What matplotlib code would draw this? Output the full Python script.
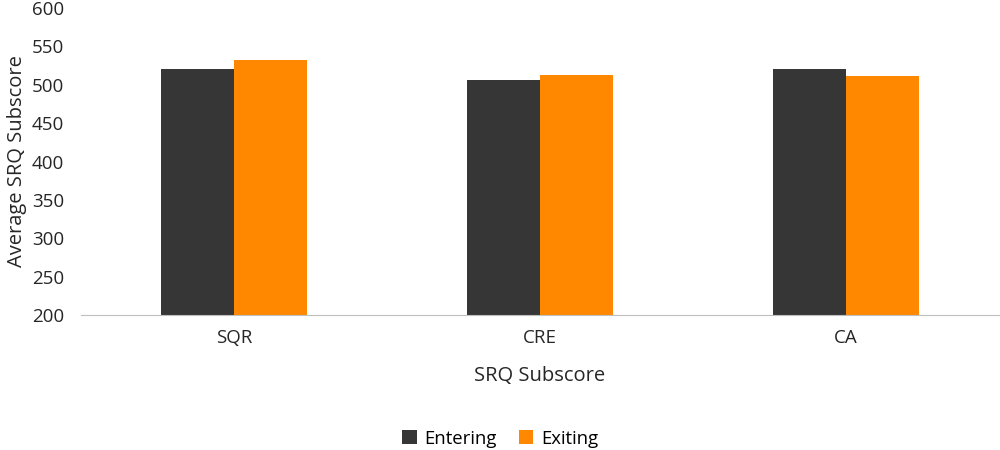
import numpy as np
import matplotlib.pyplot as plt

plt.rcParams['font.family'] = ['Open Sans', 'DejaVu Sans']

# Data
categories = ['SQR', 'CRE', 'CA']
entering = [520, 506, 521]
exiting = [532, 513, 511]

x = np.arange(len(categories))
w = 0.24

fig = plt.figure(figsize=(10, 4.5), dpi=100)
ax = fig.add_axes([0.081, 0.3, 0.918, 0.682])

ax.bar(x - w/2, entering, w, color='#363636', label='Entering')
ax.bar(x + w/2, exiting, w, color='#FF8800', label='Exiting')

ax.set_ylim(200, 600)
ax.set_xlim(-0.5, 2.5)
ax.set_yticks(range(200, 601, 50))
ax.set_xticks(x)
ax.set_xticklabels(categories)
ax.tick_params(axis='both', length=0, labelsize=13.5, colors='#262626')
ax.tick_params(axis='x', pad=10)
ax.tick_params(axis='y', pad=12)
for s in ['top', 'right', 'left']:
    ax.spines[s].set_visible(False)
ax.spines['bottom'].set_color('#BFBFBF')

ax.set_xlabel('SRQ Subscore', fontsize=14.5, color='#262626', labelpad=14)
ax.set_ylabel('Average SRQ Subscore', fontsize=14.5, color='#262626', labelpad=4)

fig.legend(loc='center', bbox_to_anchor=(0.5, 0.025), ncol=2, frameon=False,
           fontsize=13.3, handlelength=0.8, handleheight=0.8, columnspacing=1.2,
           handletextpad=0.4)

fig.savefig('out.png')
